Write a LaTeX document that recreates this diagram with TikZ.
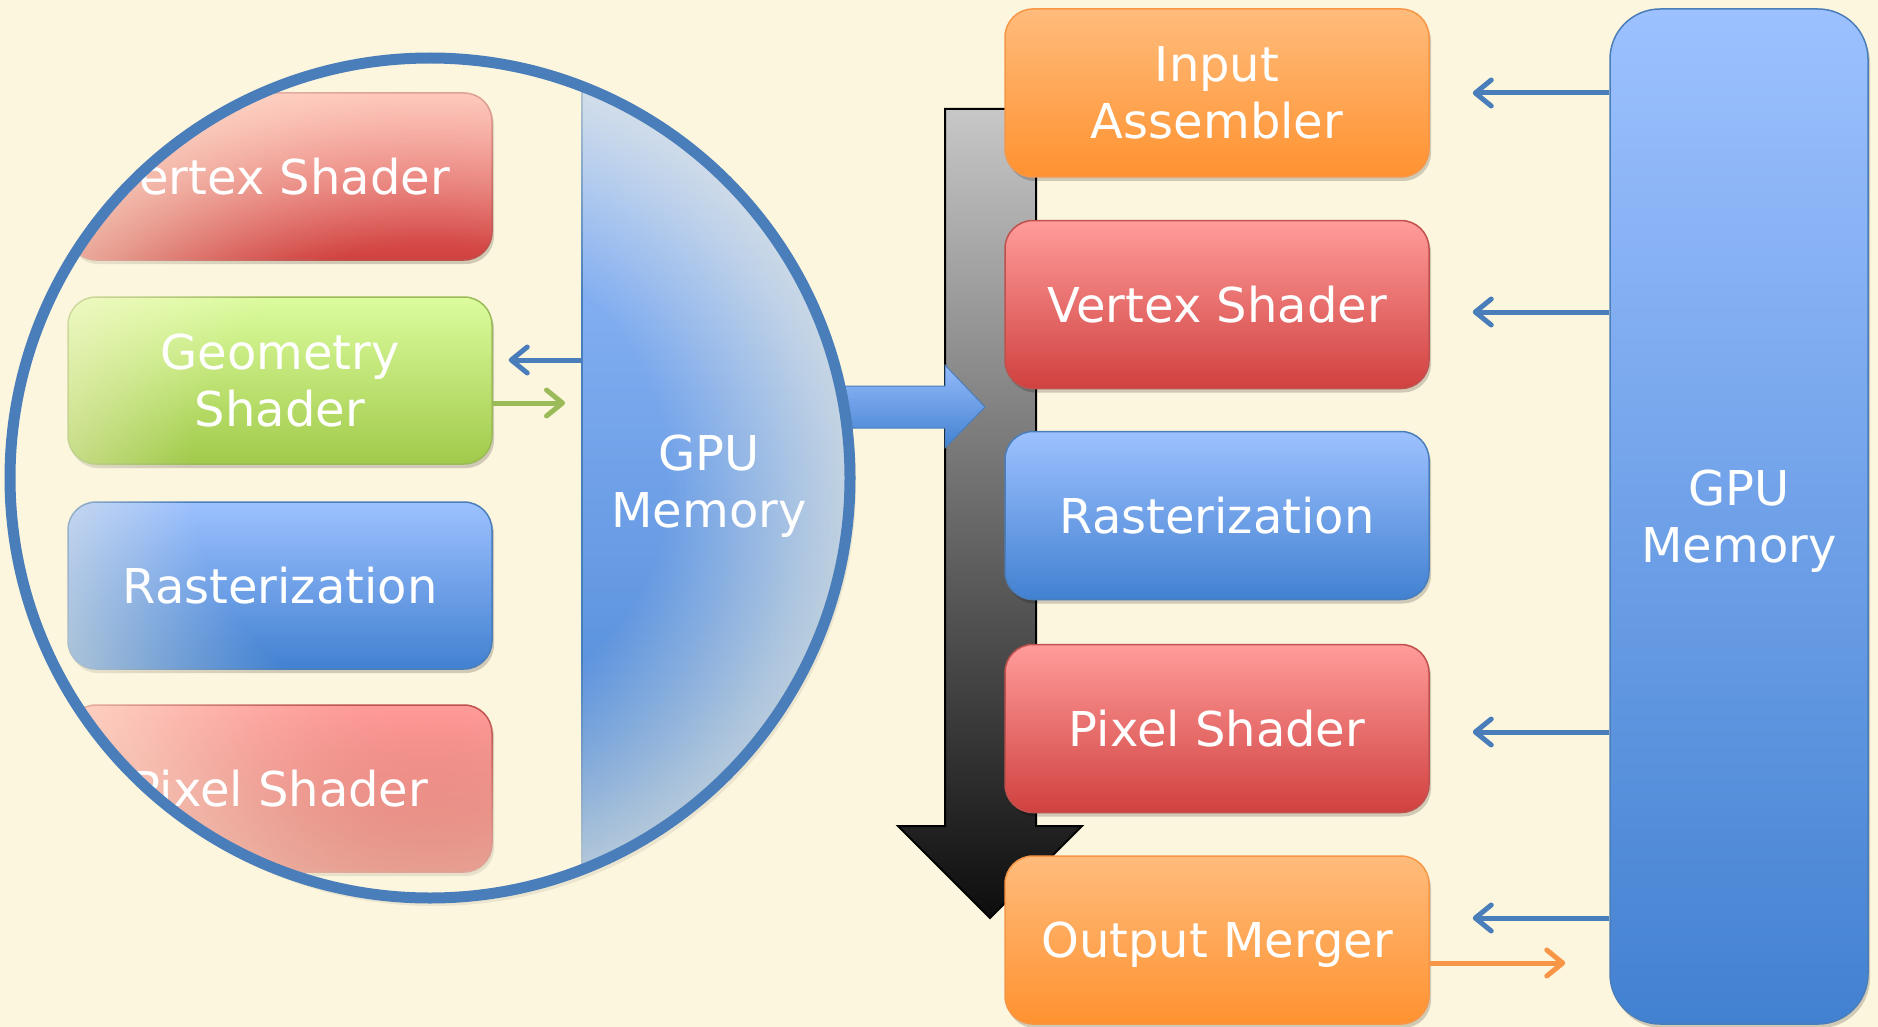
\documentclass[tikz,border=0pt]{standalone}
\usepackage{fontspec}
\setmainfont{DejaVu Sans}
\usetikzlibrary{arrows.meta,shadows,fadings}

\definecolor{bgcream}{HTML}{FDF6DE}
\definecolor{orTop}{HTML}{FFBC7C}
\definecolor{orBot}{HTML}{FF9230}
\definecolor{orEdge}{HTML}{F79646}
\definecolor{rdTop}{HTML}{FF9C9A}
\definecolor{rdBot}{HTML}{D0413F}
\definecolor{rdEdge}{HTML}{C0504D}
\definecolor{blTop}{HTML}{9DC1FF}
\definecolor{blBot}{HTML}{4281D1}
\definecolor{blEdge}{HTML}{4A7EBB}
\definecolor{grTop}{HTML}{DCFC9E}
\definecolor{grBot}{HTML}{A1CA4A}
\definecolor{grEdge}{HTML}{9BBB59}
\definecolor{arrBlue}{HTML}{4A7EBB}
\definecolor{arrGreen}{HTML}{9BBB59}
\definecolor{arrOrange}{HTML}{F79646}

\newcommand\boxfont{\fontsize{48}{57}\selectfont}

% soft vignette that fades the magnified region into the page colour
\pgfdeclareradialshading{lensshade}{\pgfpointorigin}{%
  color(0bp)=(black); color(14bp)=(black);
  color(23bp)=(white!50!black); color(33bp)=(white!96!black);
  color(50bp)=(white!96!black)}
\pgfdeclarefading{lensfade}{\pgfuseshading{lensshade}}

\tikzset{
  box/.style={rounded corners=28pt, minimum width=424pt, minimum height=168pt,
    inner sep=0pt, text=white, align=center, font=\boxfont, text depth=0pt,
    line width=1.5pt,
    drop shadow={shadow xshift=2pt, shadow yshift=-4pt, opacity=.18, fill=black}},
  orangebox/.style={box, top color=orTop, bottom color=orBot, draw=orEdge},
  redbox/.style={box, top color=rdTop, bottom color=rdBot, draw=rdEdge},
  bluebox/.style={box, top color=blTop, bottom color=blBot, draw=blEdge},
  greenbox/.style={box, top color=grTop, bottom color=grBot, draw=grEdge},
  lenslabel/.style={text=white, font=\boxfont, align=center, inner sep=0pt, text depth=0pt},
  memarrow/.style={draw=arrBlue, line width=5pt,
    -{Straight Barb[length=16pt,width=26pt,round]}},
  geoarrow/.style={draw=arrGreen, line width=5pt,
    -{Straight Barb[length=16pt,width=26pt,round]}},
  outarrow/.style={draw=arrOrange, line width=5pt,
    -{Straight Barb[length=16pt,width=26pt,round]}},
}

\begin{document}
\begin{tikzpicture}[x=1pt,y=-1pt]
\useasboundingbox (0,0) rectangle (1878,1027);
\fill[bgcream] (0,0) rectangle (1878,1027);

% pipeline flow arrow
\shade[top color=black!22, bottom color=black!95, draw=black, line width=2pt]
  (945,109) -- (1036,109) -- (1036,826) -- (1082,826) -- (990,918)
  -- (898,826) -- (945,826) -- cycle;

% block arrow leaving the magnifier
\shade[top color=blTop!90!blBot, bottom color=blBot, draw=blEdge, line width=1pt]
  (835,386) -- (945,386) -- (945,365) -- (985,407) -- (945,448)
  -- (945,428) -- (835,428) -- cycle;

% pipeline stages
\node[orangebox] (ia) at (1217,93)    {Input\\Assembler};
\node[redbox]    (vs) at (1217,304.5) {Vertex Shader};
\node[bluebox]   (ra) at (1217,515.5) {Rasterization};
\node[redbox]    (ps) at (1217,728.5) {Pixel Shader};
\node[orangebox] (om) at (1217,940)   {Output Merger};

% memory column
\node[bluebox, minimum width=258pt, minimum height=1015pt, rounded corners=50pt]
  (gpu) at (1739,516.5) {GPU\\Memory};

% memory traffic
\coordinate (iaIn) at (ia.east);
\coordinate (vsIn) at ([yshift=-7.5pt]vs.east);
\coordinate (psIn) at ([yshift=-3.5pt]ps.east);
\coordinate (omIn) at ([yshift=22pt]om.east);
\coordinate (omOut) at ([yshift=-23pt]om.east);
\foreach \p in {iaIn,vsIn,psIn,omIn}
  \draw[memarrow, shorten >=43pt] (gpu.west |- \p) -- (\p);
\draw[outarrow, shorten >=44pt] (omOut) -- (gpu.west |- omOut);

% magnified view
\fill[black, opacity=.07] (434,484) circle[radius=422pt];
\begin{scope}
  \clip (430,478) circle[radius=420pt];
  \fill[bgcream] (430,478) circle[radius=420pt];
  \node[redbox, minimum height=167pt]   (lvs) at (280,176.5) {};
  \node[greenbox, minimum height=167pt] (lgs) at (280,380.5) {};
  \node[bluebox, minimum height=167pt]  (lra) at (280,585.5) {};
  \node[redbox, minimum height=167pt]   (lps) at (280,788.5) {};
  \node[top color=blTop, bottom color=blBot, draw=blEdge, line width=1.5pt,
        minimum width=340pt, minimum height=900pt, anchor=west, inner sep=0pt]
    (lmem) at (581,478) {};
  \coordinate (lgsIn) at ([yshift=20.5pt]lgs.east);
  \coordinate (lgsOut) at ([yshift=-22.5pt]lgs.east);
  \draw[memarrow, shorten >=16pt] (lmem.west |- lgsIn) -- (lgsIn);
  \draw[geoarrow, shorten >=16pt] (lgsOut) -- (lmem.west |- lgsOut);
  \fill[bgcream, path fading=lensfade] (430,478) circle[radius=420pt];
  \node[lenslabel] (lvsT) at (lvs.center) {Vertex Shader};
  \node[lenslabel] (lgsT) at (lgs.center) {Geometry\\Shader};
  \node[lenslabel] (lraT) at (lra.center) {Rasterization};
  \node[lenslabel] (lpsT) at (lps.center) {Pixel Shader};
  \node[lenslabel] (lmemT) at (709,481) {GPU\\Memory};
\end{scope}
\draw[arrBlue, line width=11pt] (430,478) circle[radius=420pt];
\end{tikzpicture}
\end{document}
